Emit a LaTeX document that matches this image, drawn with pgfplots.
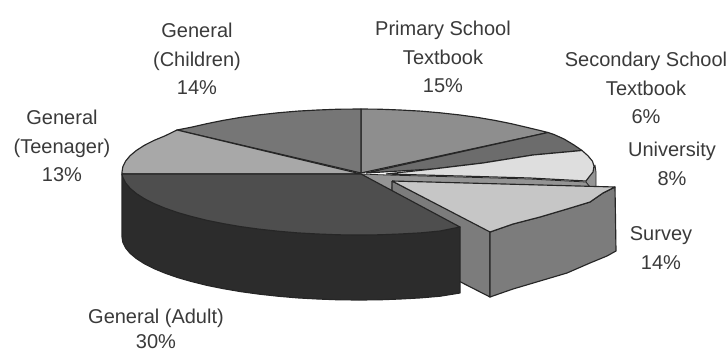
\documentclass[border=0pt]{standalone}
\usepackage{pgfplots}
\pgfplotsset{compat=1.18}
\usepackage{fontspec}
\setmainfont{Liberation Sans}
\definecolor{cPrimary}{HTML}{8E8E8E}
\definecolor{cSecondary}{HTML}{6C6C6C}
\definecolor{cUniversity}{HTML}{DEDEDE}
\definecolor{cSurveyTop}{HTML}{C6C6C6}
\definecolor{cSurveySide}{HTML}{7C7C7C}
\definecolor{cAdultTop}{HTML}{4E4E4E}
\definecolor{cAdultSide}{HTML}{2C2C2C}
\definecolor{cTeen}{HTML}{A8A8A8}
\definecolor{cChildren}{HTML}{767676}
\definecolor{cText}{HTML}{3A3A3A}
\definecolor{cBand}{HTML}{949494}
\tikzset{lab/.style={align=center, text=cText, inner sep=0pt, font=\fontsize{20}{28.5}\selectfont}}
\begin{document}
\begin{tikzpicture}
\path[use as bounding box] (0,0) rectangle (728pt,353pt);
\begin{axis}[
  scale only axis, width=728pt, height=353pt,
  xmin=0, xmax=728, ymin=0, ymax=353, y dir=reverse,
  hide axis, clip=false, no marks,
  every axis plot/.append style={draw=black!85, line width=1.15pt, line join=round},
]
% outer wall behind the university slice
\addplot[fill=cBand, line width=0.8pt] coordinates {(586,181)(592,172)(595,165)(596,172)(596,187)(586,187)(586,181)};
% top faces of the flat slices
\addplot[fill=cPrimary] coordinates {(361,173)(361,109)(379.7,109.2)(400.2,110)(420.3,111.1)(440.1,112.8)(459.2,114.9)(477.5,117.4)(494.9,120.4)(511.3,123.7)(526.6,127.3)(540,130.5)(548,132.5)(361,173)};
\addplot[fill=cSecondary] coordinates {(366,173)(548,132.5)(554,134.5)(564,139)(574,145)(582,150.5)(533,155)(483,163)(433,169)(366,173)};
\addplot[fill=cUniversity] coordinates {(386,174)(433,169)(483,163)(533,155)(582,150.5)(587.9,155.7)(592.4,161.1)(594,166)(593,172)(589,177)(586,181)(530,178)(460,176)(386,174)};
\addplot[fill=cChildren] coordinates {(361,173)(361,109)(338.3,109.2)(317.8,110)(297.7,111.1)(277.9,112.8)(258.8,114.9)(240.5,117.4)(223.1,120.4)(206.7,123.7)(191.4,127.2)(177,130)(361,173)};
\addplot[fill=cTeen] coordinates {(361,174)(177,130)(164.9,135.9)(153.8,140.5)(144.2,145.4)(136.3,150.5)(130.1,155.7)(125.6,161.1)(122.9,166.5)(122,172)(122,174)(361,174)};
% wall exposed by the pulled-out slice
\addplot[fill=cBand, line width=0.8pt] coordinates {(361,174)(387,175)(460,177)(530,179)(586,182)(590,187)(392,187)(392,195)(361,174)};
\addplot[fill=cSurveySide] coordinates {(392,181)(490,231)(490,297)(392,247)(392,181)};
% largest slice, side then top
\addplot[fill=cAdultSide] coordinates {(122,174)(122,237)(122.9,242.5)(125.6,247.9)(130.1,253.3)(136.3,258.5)(144.2,263.6)(153.8,268.5)(164.9,273.1)(177.5,277.5)(191.4,281.5)(206.7,285.3)(223.1,288.6)(240.5,291.6)(258.8,294.1)(277.9,296.2)(297.7,297.9)(317.8,299)(338.3,299.8)(359,300)(379.7,299.8)(400.2,299)(420.3,297.9)(440.1,296.2)(460,293)(460,227)(122,174)};
\addplot[fill=cAdultTop] coordinates {(361,174)(122,174)(122.9,177.5)(125.6,182.9)(130.1,188.3)(136.3,193.5)(144.2,198.6)(153.8,203.5)(164.9,208.1)(177.5,212.5)(191.4,216.5)(206.7,220.3)(223.1,223.6)(240.5,226.6)(258.8,229.1)(277.9,231.2)(297.7,232.9)(317.8,234)(338.3,234.8)(359,235)(379.7,234.8)(400.2,234)(420.3,232.9)(440.1,231)(460,227)(361,174)};
% pulled-out slice
\addplot[fill=cSurveySide] coordinates {(490,232)(513,224)(540,217)(567,209)(590,202)(603,193)(615,187)(616,251)(607,256)(590,263)(567,273)(540,281)(513,289)(490,297)(490,232)};
\addplot[fill=cSurveyTop] coordinates {(392,181)(615,187)(603,193)(590,202)(567,209)(540,217)(513,224)(490,232)(392,181)};
% slice captions
\node[lab] at (axis cs:197,59) {General\\(Children)\\14\%};
\node[lab] at (axis cs:62,146) {General\\(Teenager)\\13\%};
\node[lab] at (axis cs:443,57) {Primary School\\Textbook\\15\%};
\node[lab] at (axis cs:646,88) {Secondary School\\Textbook\\6\%};
\node[lab] at (axis cs:672,164) {University\\8\%};
\node[lab] at (axis cs:661,248) {Survey\\14\%};
\node[text=cText, inner sep=0pt, font=\fontsize{20}{24}\selectfont] at (axis cs:156,318) {General (Adult)};
\node[text=cText, inner sep=0pt, anchor=base, font=\fontsize{20}{24}\selectfont] at (axis cs:156,348) {30\%};
\end{axis}
\end{tikzpicture}
\end{document}
